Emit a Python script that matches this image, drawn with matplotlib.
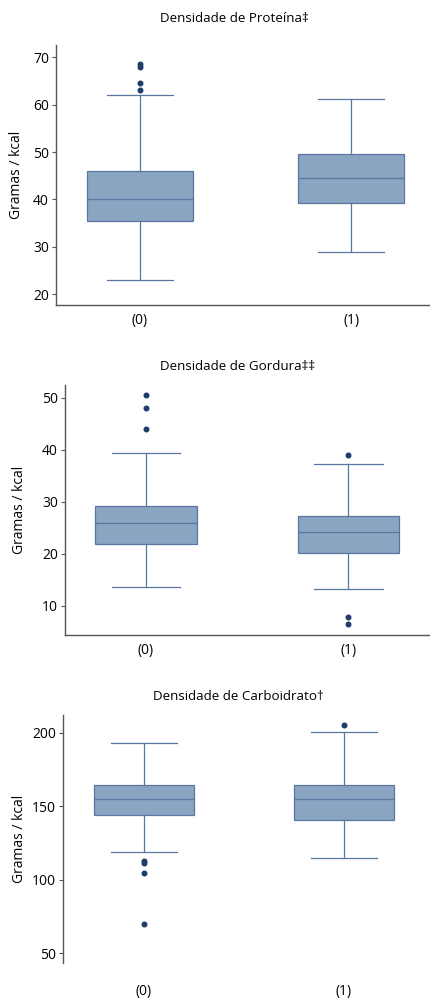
import matplotlib
matplotlib.use("Agg")
from matplotlib import pyplot as plt

plt.rcParams['font.family'] = ['Open Sans', 'DejaVu Sans']

grupos = ['(0)', '(1)']

# proteina
prot_q1 = [35.5, 39.2]
prot_med = [40.0, 44.5]
prot_q3 = [46.0, 49.6]
prot_lo = [23.0, 28.8]
prot_hi = [62.0, 61.3]
prot_out = [[63.0, 64.5, 68.0, 68.5], []]

# gordura
gord_q1 = [21.8, 20.2]
gord_med = [25.9, 24.1]
gord_q3 = [29.2, 27.3]
gord_lo = [13.7, 13.3]
gord_hi = [39.3, 37.2]
gord_out = [[43.9, 48.0, 50.5], [39.0, 7.9, 6.5]]

# carboidrato
carb_q1 = [144.1, 140.3]
carb_med = [154.6, 155.0]
carb_q3 = [164.3, 164.5]
carb_lo = [118.9, 114.8]
carb_hi = [193.2, 200.5]
carb_out = [[112.5, 111.0, 104.2, 69.6], [205.0]]

fill = '#8aa4c2'
edge = '#5878a0'
dot = '#1d3e6a'
W, H = 430, 1001

fig = plt.figure(figsize=(4.30, 10.01), dpi=100)


def painel(box, xlim, ylim, yticks, titulo, tx, ty, ylx, q1, med, q3, lo, hi, out,
           capw, xspine=True, labpad=6):
    l, t, r, b = box
    ax = fig.add_axes([l / W, 1 - b / H, (r - l) / W, (b - t) / H])
    stats = []
    for i in range(2):
        stats.append(dict(q1=q1[i], med=med[i], q3=q3[i], whislo=lo[i],
                          whishi=hi[i], fliers=out[i], label=grupos[i]))
    ax.bxp(stats, positions=[0, 1], widths=0.5, patch_artist=True,
           capwidths=capw,
           boxprops=dict(facecolor=fill, edgecolor=edge, linewidth=0.9),
           medianprops=dict(color=edge, linewidth=0.9),
           whiskerprops=dict(color=edge, linewidth=0.9),
           capprops=dict(color=edge, linewidth=0.9),
           flierprops=dict(marker='o', markersize=3.3, markerfacecolor=dot,
                           markeredgecolor=dot))
    ax.set_xlim(xlim)
    ax.set_ylim(ylim)
    ax.set_yticks(yticks)
    ax.tick_params(axis='y', length=3, width=0.8, color='#555555', labelsize=10, pad=2)
    ax.tick_params(axis='x', length=0, labelsize=10, pad=labpad)
    for s in ['top', 'right']:
        ax.spines[s].set_visible(False)
    ax.spines['left'].set_color('#555555')
    ax.spines['bottom'].set_color('#555555')
    ax.spines['left'].set_linewidth(1.0)
    ax.spines['bottom'].set_linewidth(1.0)
    if not xspine:
        ax.spines['bottom'].set_visible(False)
    fig.text(tx / W, 1 - ty / H, titulo, ha='center', va='center', fontsize=9.6)
    fig.text(ylx / W, 1 - (t + b) / 2 / H, 'Gramas / kcal', rotation=90,
             ha='center', va='center', fontsize=10)
    return ax


painel((56, 45, 430, 305), (-0.398, 1.374), (17.7, 72.6), [20, 30, 40, 50, 60, 70],
       'Densidade de Proteína‡', 234, 19, 17,
       prot_q1, prot_med, prot_q3, prot_lo, prot_hi, prot_out, 0.31)

painel((65, 385, 430, 635), (-0.400, 1.404), (4.4, 52.4), [10, 20, 30, 40, 50],
       'Densidade de Gordura‡‡', 238, 367, 20,
       gord_q1, gord_med, gord_q3, gord_lo, gord_hi, gord_out, 0.34)

painel((63, 715, 430, 963), (-0.403, 1.43), (43.2, 212), [50, 100, 150, 200],
       'Densidade de Carboidrato†', 238, 697, 20,
       carb_q1, carb_med, carb_q3, carb_lo, carb_hi, carb_out, 0.33,
       xspine=False, labpad=15)

fig.savefig('out.png', dpi=100)
